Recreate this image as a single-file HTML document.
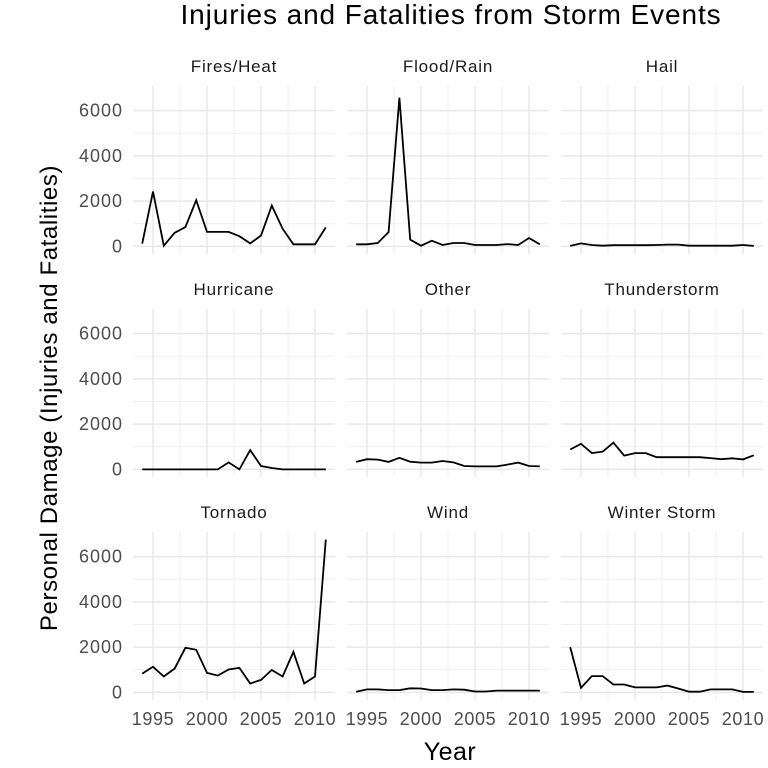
<!DOCTYPE html>
<html><head><meta charset="utf-8"><style>
body{margin:0;background:#fff}
svg{display:block;font-family:"Liberation Sans",Arial,sans-serif}
</style></head><body>
<svg id="chart" width="768" height="768">
<text x="451" y="24" font-size="28" letter-spacing="0.9" text-anchor="middle" fill="#000">Injuries and Fatalities from Storm Events</text>
<text transform="translate(57,398) rotate(-90)" font-size="24" letter-spacing="0.6" text-anchor="middle" fill="#000">Personal Damage (Injuries and Fatalities)</text>
<text x="450" y="760" font-size="25" letter-spacing="0.5" text-anchor="middle" fill="#000">Year</text>
</svg>
<script>
const years=[1994,1995,1996,1997,1998,1999,2000,2001,2002,2003,2004,2005,2006,2007,2008,2009,2010,2011];
const categories=["Fires/Heat","Flood/Rain","Hail","Hurricane","Other","Thunderstorm","Tornado","Wind","Winter Storm"];
const firesHeat=[120,2420,30,600,850,2040,640,640,640,450,130,480,1800,780,90,90,90,840];
const floodRain=[90,90,150,630,6570,300,30,250,60,150,150,60,60,60,100,60,370,90];
const hail=[20,130,60,30,50,50,50,50,60,80,80,30,30,30,30,30,60,20];
const hurricane=[0,0,0,0,0,0,0,0,310,0,850,150,60,0,0,0,0,0];
const other=[330,450,430,330,510,340,300,300,370,310,150,130,130,130,210,300,150,130];
const thunderstorm=[880,1130,720,780,1180,610,720,720,540,540,540,540,540,500,450,490,440,620];
const tornado=[830,1130,700,1050,1970,1880,860,740,1010,1080,390,550,990,700,1790,390,700,6750];
const wind=[30,130,130,100,100,180,170,100,100,130,120,40,40,80,80,80,80,80];
const winterStorm=[2000,200,720,720,350,350,220,220,220,300,170,30,30,130,130,130,20,20];
const series=[firesHeat,floodRain,hail,hurricane,other,thunderstorm,tornado,wind,winterStorm];
const yTicks=[0,2000,4000,6000];
const yMinor=[1000,3000,5000];
const xTicks=[1995,2000,2005,2010];
const xMinor=[1997.5,2002.5,2007.5];

const NS="http://www.w3.org/2000/svg";
const svg=document.getElementById('chart');
const colLeft=[133,347,561], rowTop=[86,309,532];
const pw=202, ph=168;
const xMin=1993.15,xMax=2011.85,yMin=-337,yMax=7087;
function mk(t,a,p){const e=document.createElementNS(NS,t);for(const k in a)e.setAttribute(k,a[k]);(p||svg).appendChild(e);return e;}
categories.forEach((cat,i)=>{
  const c=i%3,r=Math.floor(i/3);
  const x0=colLeft[c],y0=rowTop[r];
  const sx=v=>x0+(v-xMin)/(xMax-xMin)*pw;
  const sy=v=>y0+ph-(v-yMin)/(yMax-yMin)*ph;
  const g=mk('g',{});
  
  
  xMinor.forEach(v=>mk('line',{x1:sx(v),x2:sx(v),y1:y0,y2:y0+ph,stroke:'#ebebeb','stroke-width':0.8},g));
  yMinor.forEach(v=>mk('line',{x1:x0,x2:x0+pw,y1:sy(v),y2:sy(v),stroke:'#ebebeb','stroke-width':0.8},g));
  xTicks.forEach(v=>mk('line',{x1:sx(v),x2:sx(v),y1:y0,y2:y0+ph,stroke:'#e8e8e8','stroke-width':1.5},g));
  yTicks.forEach(v=>mk('line',{x1:x0,x2:x0+pw,y1:sy(v),y2:sy(v),stroke:'#e8e8e8','stroke-width':1.5},g));
  const st=mk('text',{x:x0+pw/2,y:y0-14,'font-size':17,'letter-spacing':0.8,'text-anchor':'middle',fill:'#1a1a1a'},g);
  st.textContent=cat;
  
  
  const pts=years.map((yr,k)=>sx(yr).toFixed(1)+','+sy(series[i][k]).toFixed(1)).join(' ');
  const pl=mk('polyline',{points:pts,fill:'none',stroke:'#000','stroke-width':1.8},g);
  
  
  if(c===0){yTicks.forEach(v=>{const t=mk('text',{x:x0-10,y:sy(v)+6,'font-size':18,'letter-spacing':1,'text-anchor':'end',fill:'#4d4d4d'},g);t.textContent=v;
    
    });}
  if(r===2){xTicks.forEach(v=>{const t=mk('text',{x:sx(v),y:y0+ph+25,'font-size':18,'letter-spacing':0.6,'text-anchor':'middle',fill:'#4d4d4d'},g);t.textContent=v;
    
    });}
});
</script>
</body></html>
